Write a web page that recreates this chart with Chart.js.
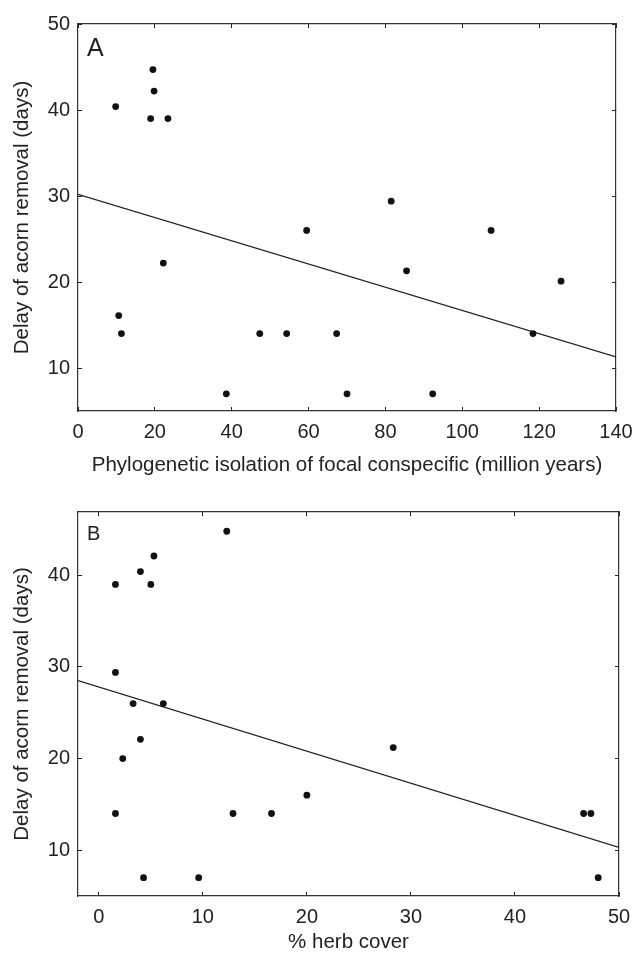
<!DOCTYPE html>
<html>
<head>
<meta charset="utf-8">
<script src="https://cdn.jsdelivr.net/npm/chart.js@4.4.0/dist/chart.umd.min.js"></script>
<style>
  body { margin: 0; background: #fff; }
  canvas { display: block; }
</style>
</head>
<body>
<canvas id="chartA" width="634" height="480"></canvas>
<canvas id="chartB" width="634" height="478"></canvas>
<script>
// panel A - phylogenetic isolation
const isolationA = [9.8, 19.5, 19.8, 18.9, 23.4, 22.2, 10.6, 11.3, 38.6, 47.3, 54.3, 59.5, 67.3, 70.0, 81.5, 85.5, 92.3, 107.5, 118.4, 125.7];
const delayA     = [40.4, 44.7, 42.2, 39.0, 39.0, 22.2, 16.1, 14.0, 7.0, 14.0, 14.0, 26.0, 14.0, 7.0, 29.4, 21.3, 7.0, 26.0, 14.0, 20.1];
const fitXA = [0, 140];
const fitYA = [30.2, 11.3];
const xTicksA = [0, 20, 40, 60, 80, 100, 120, 140];
const yTicksA = [10, 20, 30, 40, 50];

// panel B - herb cover
const herbB  = [1.6, 4.0, 5.3, 5.0, 12.3, 1.6, 3.3, 6.2, 4.0, 2.3, 1.6, 4.3, 9.6, 12.9, 16.6, 20.0, 28.3, 46.6, 47.3, 48.0];
const delayB = [39.0, 40.4, 42.1, 39.0, 44.8, 29.4, 26.0, 26.0, 22.1, 20.0, 14.0, 7.0, 7.0, 14.0, 14.0, 16.0, 21.2, 14.0, 14.0, 7.0];
const fitXB = [-2, 50];
const fitYB = [28.5, 10.3];
const xTicksB = [0, 10, 20, 30, 40, 50];
const yTicksB = [10, 20, 30, 40];

const FONT = '"Liberation Sans", Arial, Helvetica, sans-serif';
const INK = '#222';

function pairs(xs, ys) {
  return xs.map((x, i) => ({x: x, y: ys[i]}));
}

function fixTicks(list) {
  return function(axis) { axis.ticks = list.map(v => ({value: v})); };
}

// the "A" / "B" letter in the corner of each plot
const panelLabel = {
  id: 'panelLabel',
  afterDraw(chart, args, opts) {
    const ctx = chart.ctx, area = chart.chartArea;
    ctx.save();
    ctx.font = opts.size + 'px ' + FONT;
    ctx.fillStyle = INK;
    ctx.textBaseline = 'alphabetic';
    ctx.fillText(opts.text, area.left + opts.dx, area.top + opts.dy);
    ctx.restore();
  }
};

function axis(pos, min, max, ticks, showLabels, size, extra) {
  const horiz = pos === 'top' || pos === 'bottom';
  const a = {
    type: 'linear',
    position: pos,
    min: min,
    max: max,
    afterBuildTicks: fixTicks(ticks),
    afterFit: s => {
      if (horiz) {
        s.height = size;
        // end labels may hang past the plot edge, like the original
        s.paddingLeft = 0;
        s.paddingRight = 0;
      } else {
        s.width = size;
      }
    },
    grid: { drawOnChartArea: false, tickLength: -4, tickColor: INK, tickWidth: 1 },
    border: { display: true, color: '#333', width: 1.2 },
    ticks: {
      display: showLabels,
      color: INK,
      font: { family: FONT, size: 20 },
      padding: horiz ? 13 : 12,
      maxRotation: 0,
      autoSkip: false
    }
  };
  return Object.assign(a, extra || {});
}

function makeChart(id, xs, ys, fx, fy, xr, yr, xt, yt, xTitle, cfg) {
  return new Chart(document.getElementById(id), {
    type: 'scatter',
    data: {
      datasets: [{
        data: pairs(xs, ys),
        backgroundColor: '#111',
        borderColor: '#111',
        pointRadius: 3.4,
        pointBorderWidth: 0
      }, {
        data: pairs(fx, fy),
        showLine: true,
        pointRadius: 0,
        borderColor: '#222',
        borderWidth: 1.3
      }]
    },
    options: {
      responsive: false,
      animation: false,
      layout: { padding: cfg.padding },
      plugins: {
        legend: { display: false },
        tooltip: { enabled: false },
        panelLabel: cfg.label
      },
      scales: {
        x: axis('bottom', xr[0], xr[1], xt, true, cfg.xSize, {
          title: { display: true, text: xTitle, color: INK,
                   font: { family: FONT, size: 20.5 }, padding: { top: 0, bottom: cfg.titlePad } }
        }),
        y: axis('left', yr[0], yr[1], yt, true, 78, {
          title: { display: true, text: 'Delay of acorn removal (days)', color: INK,
                   font: { family: FONT, size: 20.5 }, padding: { top: 10, bottom: 0 } }
        }),
        x2: axis('top', xr[0], xr[1], xt, false, 0),
        y2: axis('right', yr[0], yr[1], yt, false, 0)
      }
    },
    plugins: [panelLabel]
  });
}

makeChart('chartA', isolationA, delayA, fitXA, fitYA, [0, 140], [5, 50], xTicksA, yTicksA,
  'Phylogenetic isolation of focal conspecific (million years)', {
    padding: { top: 23, right: 18, bottom: 0, left: 0 },
    xSize: 69,
    titlePad: 2,
    label: { text: 'A', size: 25, dx: 9, dy: 32 }
  });

makeChart('chartB', herbB, delayB, fitXB, fitYB, [-2, 50], [5, 46.9], xTicksB, yTicksB,
  '% herb cover', {
    padding: { top: 32, right: 15, bottom: 0, left: 0 },
    xSize: 62,
    titlePad: 3,
    label: { text: 'B', size: 20, dx: 9, dy: 28 }
  });
</script>
</body>
</html>
